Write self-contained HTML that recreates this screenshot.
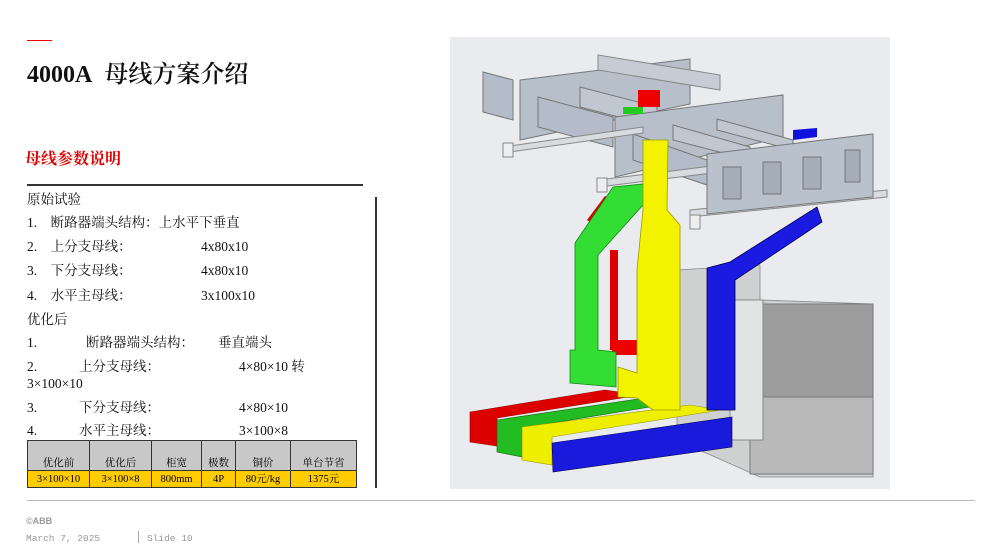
<!DOCTYPE html>
<html><head><meta charset="utf-8"><style>
body{margin:0;width:1000px;height:558px;background:#fff;position:relative;overflow:hidden;font-family:"Liberation Serif","Noto Serif CJK SC",serif;}
.a{position:absolute;white-space:nowrap;}
.t{font-size:13.5px;line-height:16px;color:#111;font-family:"Liberation Serif","Noto Serif CJK SC",serif;}
table{position:absolute;left:27px;top:440px;border-collapse:collapse;font-size:10.5px;line-height:13px;font-family:"Liberation Serif","Noto Serif CJK SC",serif;}
td{border:1.5px solid #333;text-align:center;padding:0;}
</style></head><body>
<div class="a" style="left:27px;top:40px;width:25px;height:1px;background:#e00;"></div>
<div class="a" style="left:27px;top:59px;font-size:24px;line-height:32px;color:#111;font-weight:600;">4000A&nbsp; 母线方案介绍</div>
<div class="a" style="left:25px;top:150px;font-size:16px;line-height:20px;color:#d00;font-weight:bold;">母线参数说明</div>
<div class="a" style="left:27px;top:184px;width:336px;height:1.5px;background:#333;"></div>
<div class="a" style="left:375px;top:197px;width:1.5px;height:291px;background:#333;"></div>
<div class="a t" style="left:27px;top:192px;">原始试验</div>
<div class="a t" style="left:27px;top:215px;">1.&nbsp;&nbsp;&nbsp; 断路器端头结构：上水平下垂直</div>
<div class="a t" style="left:27px;top:239px;">2.&nbsp;&nbsp;&nbsp; 上分支母线：</div><div class="a t" style="left:201px;top:239px;">4x80x10</div>
<div class="a t" style="left:27px;top:263px;">3.&nbsp;&nbsp;&nbsp; 下分支母线：</div><div class="a t" style="left:201px;top:263px;">4x80x10</div>
<div class="a t" style="left:27px;top:288px;">4.&nbsp;&nbsp;&nbsp; 水平主母线：</div><div class="a t" style="left:201px;top:288px;">3x100x10</div>
<div class="a t" style="left:27px;top:312px;">优化后</div>
<div class="a t" style="left:27px;top:335px;">1.</div><div class="a t" style="left:86px;top:335px;">断路器端头结构：</div><div class="a t" style="left:218px;top:335px;">垂直端头</div>
<div class="a t" style="left:27px;top:359px;">2.</div><div class="a t" style="left:79px;top:359px;">上分支母线：</div><div class="a t" style="left:239px;top:359px;">4×80×10 转</div>
<div class="a t" style="left:27px;top:376px;">3×100×10</div>
<div class="a t" style="left:27px;top:400px;">3.</div><div class="a t" style="left:79px;top:400px;">下分支母线：</div><div class="a t" style="left:239px;top:400px;">4×80×10</div>
<div class="a t" style="left:27px;top:423px;">4.</div><div class="a t" style="left:79px;top:423px;">水平主母线：</div><div class="a t" style="left:239px;top:423px;">3×100×8</div>
<table>
<tr style="height:30px;background:#c8c8c8;vertical-align:bottom;"><td style="width:61px">优化前</td><td style="width:61px">优化后</td><td style="width:49px">柜宽</td><td style="width:33px">极数</td><td style="width:54px">铜价</td><td style="width:65px">单台节省</td></tr>
<tr style="height:17px;background:#ffcc00;"><td>3×100×10</td><td>3×100×8</td><td>800mm</td><td>4P</td><td>80元/kg</td><td>1375元</td></tr>
</table>
<div class="a" style="left:27px;top:500px;width:948px;height:1px;background:#bbb;"></div>
<div class="a" style="left:26px;top:516px;font-size:9px;color:#999;font-weight:bold;font-family:'Liberation Sans',sans-serif;">©ABB</div>
<div class="a" style="left:26px;top:533px;font-size:9.5px;color:#999;font-family:'Liberation Mono',monospace;">March 7, 2025</div>
<div class="a" style="left:138px;top:531px;width:1px;height:12px;background:#aaa;"></div>
<div class="a" style="left:147px;top:533px;font-size:9.5px;color:#999;font-family:'Liberation Mono',monospace;">Slide 10</div>
<svg class="a" style="left:450px;top:37px;" width="440" height="452" viewBox="450 37 440 452">
<rect x="450" y="37" width="440" height="452" fill="#e9ebee"/>
<polygon points="677,270 760,265 760,300 873,304 873,477 760,477 677,440" fill="#cfd0d0" stroke="#888" stroke-width="0.8"/>
<rect x="763" y="304" width="110" height="93" fill="#9c9d9c" stroke="#777"/>
<rect x="750" y="397" width="123" height="77" fill="#b8b9b8" stroke="#777"/>
<rect x="730" y="300" width="33" height="140" fill="#e2e3e3" stroke="#888"/>
<polygon points="483,72 513,80 513,120 483,112" fill="#b3bcc8" stroke="#777"/>
<polygon points="520,80 690,59 690,104 520,140" fill="#b7bfcb" stroke="#777"/>
<polygon points="598,55 720,75 720,90 598,70" fill="#c6ccd5" stroke="#888"/>
<polygon points="538,97 613,117 613,147 538,127" fill="#b3bcc8" stroke="#777"/>
<polygon points="580,87 657,107 657,127 580,107" fill="#c0c7d1" stroke="#777"/>
<polygon points="615,117 783,95 783,137 615,177" fill="#b7bfcb" stroke="#777"/>
<polygon points="633,134 707,160 707,185 633,160" fill="#b3bcc8" stroke="#777"/>
<polygon points="673,125 750,147 750,160 673,140" fill="#c0c7d1" stroke="#777"/>
<polygon points="717,119 793,140 793,150 717,130" fill="#c0c7d1" stroke="#777"/>
<polygon points="503,147 643,127 643,133 503,153" fill="#d8dbdf" stroke="#888"/>
<polygon points="598,180 720,165 720,172 598,187" fill="#d8dbdf" stroke="#888"/>
<polygon points="690,210 887,190 887,197 690,217" fill="#d8dbdf" stroke="#888"/>
<rect x="503" y="143" width="10" height="14" fill="#eee" stroke="#888"/>
<rect x="597" y="178" width="10" height="14" fill="#eee" stroke="#888"/>
<rect x="690" y="215" width="10" height="14" fill="#eee" stroke="#888"/>
<rect x="638" y="90" width="22" height="17" fill="#e00"/>
<rect x="623" y="107" width="20" height="7" fill="#2c2"/>
<polygon points="793,130 817,128 817,137 793,140" fill="#11d"/>
<polygon points="707,154 873,134 873,197 707,214" fill="#b9c1cc" stroke="#777"/>
<g fill="#a4adb9" stroke="#777"><rect x="723" y="167" width="18" height="32"/><rect x="763" y="162" width="18" height="32"/><rect x="803" y="157" width="18" height="32"/><rect x="845" y="150" width="15" height="32"/></g>
<polygon points="587,220 605,196 613,200 595,226" fill="#d00"/>
<rect x="610" y="250" width="8" height="100" fill="#d00"/>
<rect x="612" y="340" width="25" height="15" fill="#e00"/>
<polygon points="470,412 605,390 640,395 497,418 497,446 470,442" fill="#d00" stroke="#900" stroke-width="0.6"/>
<polygon points="497,420 645,398 680,402 522,428 522,457 497,452" fill="#2b2" stroke="#161" stroke-width="0.6"/>
<polygon points="522,427 690,405 720,410 552,437 552,465 522,460" fill="#ee0" stroke="#990" stroke-width="0.6"/>
<polygon points="552,443 732,417 732,447 553,472" fill="#1a1adc" stroke="#005" stroke-width="0.6"/>
<polygon points="575,243 613,187 643,184 643,205 598,255 598,350 616,352 616,387 570,383 570,350 575,350" fill="#3d3" stroke="#181" stroke-width="0.8"/>
<polygon points="643,140 668,140 667,210 680,225 680,410 653,410 637,398 618,397 618,367 637,373 637,270 643,210" fill="#f3f300" stroke="#990" stroke-width="0.8"/>
<polygon points="707,268 730,262 817,207 822,222 735,280 735,410 707,410" fill="#1a1ae0" stroke="#005" stroke-width="0.8"/>
</svg>
</body></html>
